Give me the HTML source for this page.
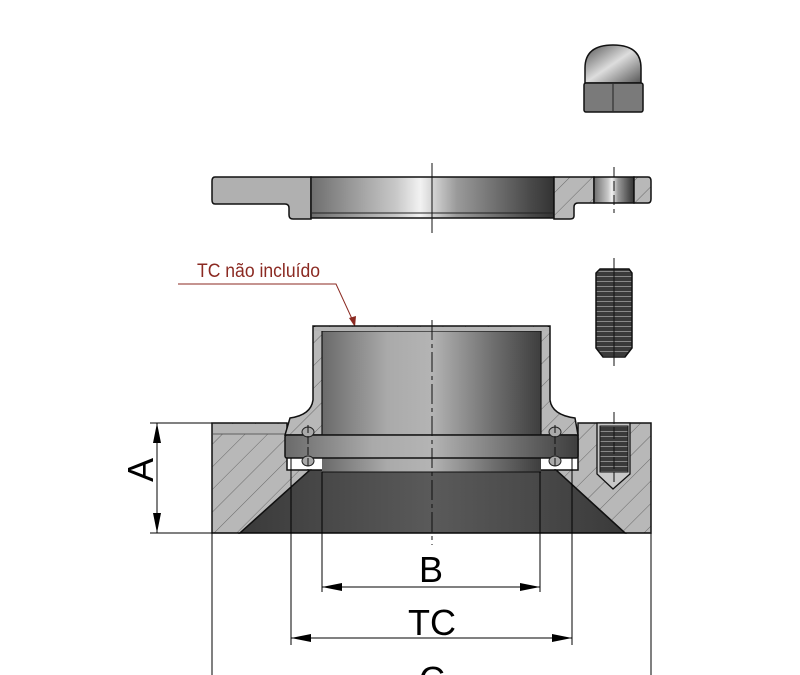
<!DOCTYPE html>
<html><head><meta charset="utf-8"><style>html,body{margin:0;padding:0;background:#fff}svg{display:block}</style></head>
<body>
<svg width="800" height="675" viewBox="0 0 800 675" xmlns="http://www.w3.org/2000/svg">
<defs>
<linearGradient id="bore" x1="0" x2="1" y1="0" y2="0">
<stop offset="0" stop-color="#6e6e6e"/><stop offset="0.35" stop-color="#c8c8c8"/><stop offset="0.45" stop-color="#f2f2f2"/><stop offset="0.6" stop-color="#9a9a9a"/><stop offset="0.9" stop-color="#4a4a4a"/><stop offset="1" stop-color="#333"/>
</linearGradient>
<linearGradient id="hub" x1="0" x2="1" y1="0" y2="0">
<stop offset="0" stop-color="#6a6a6a"/><stop offset="0.3" stop-color="#aaa"/><stop offset="0.5" stop-color="#b4b4b4"/><stop offset="0.8" stop-color="#6a6a6a"/><stop offset="1" stop-color="#3e3e3e"/>
</linearGradient>
<linearGradient id="cone" x1="0" x2="1" y1="0" y2="0">
<stop offset="0" stop-color="#3a3a3a"/><stop offset="0.5" stop-color="#5a5a5a"/><stop offset="1" stop-color="#3a3a3a"/>
</linearGradient>
<linearGradient id="dome" x1="0" x2="1" y1="0" y2="1">
<stop offset="0" stop-color="#555"/><stop offset="0.5" stop-color="#ddd"/><stop offset="1" stop-color="#555"/>
</linearGradient>
<pattern id="hatch" width="16" height="16" patternUnits="userSpaceOnUse" patternTransform="rotate(45)">
<rect width="16" height="16" fill="#b8b8b8"/><line x1="0" y1="0" x2="0" y2="16" stroke="#555" stroke-width="0.8"/>
</pattern>
<pattern id="thread" width="6" height="5" patternUnits="userSpaceOnUse">
<rect width="6" height="5" fill="#3a3a3a"/><line x1="0" y1="1.5" x2="6" y2="1.5" stroke="#888" stroke-width="1"/>
</pattern>
<marker id="ah" viewBox="0 0 20 8" refX="20" refY="4" markerWidth="20" markerHeight="8" orient="auto-start-reverse" markerUnits="userSpaceOnUse"><path d="M0,0 L20,4 L0,8z" fill="#000"/></marker>
</defs>

<!-- cap nut -->
<path d="M585,83 L585,68 Q585,45 613,45 Q641,45 641,68 L641,83z" fill="url(#dome)" stroke="#111" stroke-width="1.5"/>
<rect x="584" y="83" width="59" height="29" rx="2" fill="#7a7a7a" stroke="#111" stroke-width="1.5"/>
<line x1="613" y1="84" x2="613" y2="111" stroke="#222"/>

<!-- top flange -->
<path d="M215,177 L311,177 L311,203 L311,219 L293,219 Q289,219 289,215 L289,208 Q289,204 285,204 L215,204 Q212,204 212,200 L212,181 Q212,177 215,177z" fill="#b0b0b0" stroke="#111" stroke-width="1.5"/>
<rect x="311" y="177" width="243" height="41" fill="url(#bore)" stroke="#111" stroke-width="1.5"/>
<line x1="312" y1="213" x2="553" y2="213" stroke="#222"/>
<path d="M554,177 L594,177 L594,203 L578,203 Q574,203 574,207 L574,216 Q574,219 570,219 L554,219z" fill="url(#hatch)" stroke="#111" stroke-width="1.5"/>
<rect x="594" y="177" width="40" height="26" fill="url(#bore)" stroke="#111" stroke-width="1.5"/>
<path d="M634,177 L648,177 Q651,177 651,181 L651,199 Q651,203 648,203 L634,203z" fill="url(#hatch)" stroke="#111" stroke-width="1.5"/>
<line x1="432" y1="163" x2="432" y2="233" stroke="#111"/>
<line x1="614" y1="167" x2="614" y2="213" stroke="#111" stroke-dasharray="10,4"/>

<!-- label -->
<text x="197" y="277" font-family="Liberation Sans, sans-serif" font-size="19" fill="#8b2a22" textLength="123" lengthAdjust="spacingAndGlyphs">TC não incluído</text>
<polyline points="178,284 336,284 353,321" fill="none" stroke="#8b2a22" stroke-width="1"/>
<path d="M349,318 L355,327 L356,316z" fill="#8b2a22"/>

<!-- stud -->
<path d="M600,269 L629,269 L632,273 L632,348 L625,357 L603,357 L596,348 L596,273z" fill="url(#thread)" stroke="#111" stroke-width="1.5"/>
<line x1="614" y1="258" x2="614" y2="366" stroke="#111"/>

<!-- flange section left and right -->
<path d="M212,423 L287,423 L287,470 L310,470 L240,533 L212,533z" fill="url(#hatch)" stroke="#111" stroke-width="1.5"/>
<rect x="213" y="424" width="72" height="10" fill="#b4b4b4"/>
<line x1="213" y1="434" x2="285" y2="434" stroke="#444" stroke-width="0.8"/>
<path d="M578,423 L651,423 L651,533 L625,533 L556,470 L578,470z" fill="url(#hatch)" stroke="#111" stroke-width="1.5"/>
<!-- cone bore -->
<path d="M310,470 L556,470 L625,533 L240,533z" fill="url(#cone)" stroke="#111" stroke-width="1.5"/>
<rect x="322" y="458" width="219" height="14" fill="url(#hub)"/>
<line x1="322" y1="472" x2="541" y2="472" stroke="#111"/>
<!-- ferrule hub -->
<path d="M313,326 L550,326 L550,400 Q552,415 575,418 L578,435 L285,435 L290,418 Q311,415 313,400z" fill="url(#hatch)" stroke="#111" stroke-width="1.5"/>
<rect x="322" y="331" width="219" height="104" fill="url(#hub)" stroke="#111" stroke-width="1.2"/>
<path d="M313,326 L322,331 M550,326 L541,331" stroke="#111"/>
<rect x="314" y="327" width="235" height="4" fill="#b4b4b4"/>
<!-- clamp band -->
<rect x="285" y="435" width="293" height="23" rx="2" fill="url(#hub)" stroke="#111" stroke-width="1.5"/>
<ellipse cx="308" cy="432" rx="6" ry="5" fill="#aaa" stroke="#222"/>
<ellipse cx="308" cy="461" rx="6" ry="5" fill="#aaa" stroke="#222"/>
<ellipse cx="555" cy="432" rx="6" ry="5" fill="#aaa" stroke="#222"/>
<ellipse cx="555" cy="461" rx="6" ry="5" fill="#aaa" stroke="#222"/>
<line x1="308" y1="425" x2="308" y2="470" stroke="#111" stroke-dasharray="8,3"/>
<line x1="555" y1="425" x2="555" y2="470" stroke="#111" stroke-dasharray="8,3"/>
<!-- threaded hole -->
<path d="M597,423 L630,423 L630,474 L613,489 L597,474z" fill="#c8c8c8" stroke="#111" stroke-width="1.3"/>
<rect x="600" y="426" width="28" height="46" fill="url(#thread)" stroke="#111"/>
<line x1="614" y1="412" x2="614" y2="482" stroke="#111" stroke-dasharray="12,3"/>
<!-- centerline -->
<line x1="432" y1="320" x2="432" y2="545" stroke="#111" stroke-dasharray="20,4,4,4"/>

<!-- dimensions -->
<g stroke="#000" stroke-width="1" fill="none">
<line x1="150" y1="423" x2="212" y2="423"/>
<line x1="150" y1="533" x2="650" y2="533"/>
<line x1="157" y1="423" x2="157" y2="533" marker-start="url(#ah)" marker-end="url(#ah)"/>
<line x1="212" y1="533" x2="212" y2="675"/>
<line x1="651" y1="533" x2="651" y2="675"/>
<line x1="291" y1="458" x2="291" y2="645"/>
<line x1="572" y1="458" x2="572" y2="645"/>
<line x1="322" y1="472" x2="322" y2="592"/>
<line x1="540" y1="472" x2="540" y2="592"/>
<line x1="322" y1="587" x2="540" y2="587" marker-start="url(#ah)" marker-end="url(#ah)"/>
<line x1="291" y1="638" x2="572" y2="638" marker-start="url(#ah)" marker-end="url(#ah)"/>
</g>
<g font-family="Liberation Sans, sans-serif" font-size="36" fill="#000" text-anchor="middle">
<text x="0" y="0" transform="translate(153,470) rotate(-90)">A</text>
<text x="431" y="582">B</text>
<text x="432" y="635">TC</text>
<text x="432" y="692">C</text>
</g>
</svg>
</body></html>
